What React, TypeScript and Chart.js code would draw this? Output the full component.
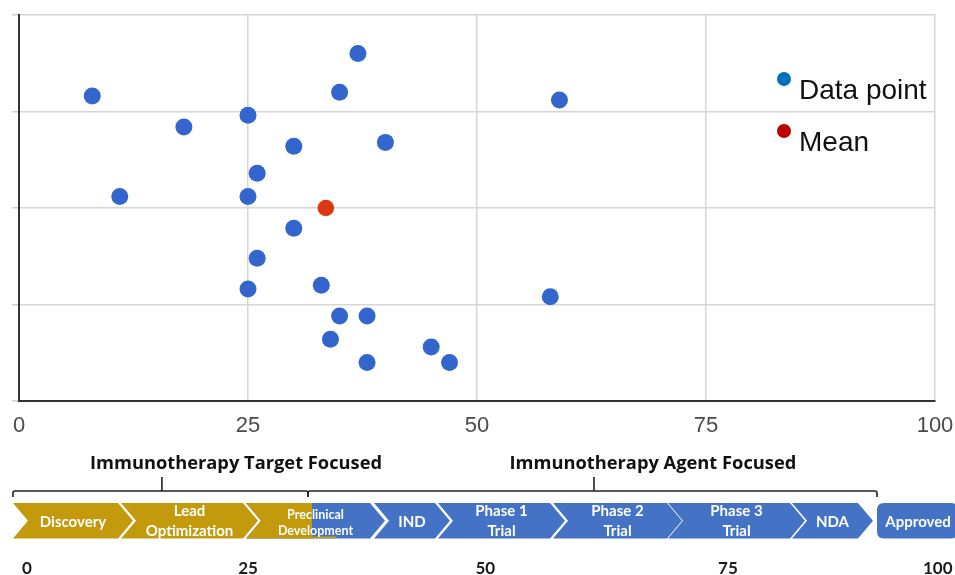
import { useEffect, useRef } from 'react';
import { Chart, registerables } from 'chart.js';

Chart.register(...registerables);

// ---- scatter data ----
const dataX = [8, 37, 35, 25, 18, 30, 40, 26, 11, 25, 30, 26, 25, 33, 35, 38, 34, 38, 45, 47, 59, 58];
const dataY = [3.16, 3.6, 3.2, 2.96, 2.84, 2.64, 2.68, 2.36, 2.12, 2.12, 1.79, 1.48, 1.16, 1.2, 0.88, 0.88, 0.64, 0.4, 0.56, 0.4, 3.12, 1.08];
const meanX = [33.5];
const meanY = [2.0];
const seriesLabels = ['Data point', 'Mean'];
const legendColors = ['#0070C0', '#C00000'];

// ---- pipeline diagram (positions on the same 0-100 x scale) ----
const stageLabels = [
  ['Discovery'],
  ['Lead', 'Optimization'],
  ['Preclinical', 'Development'],
  ['IND'],
  ['Phase 1', 'Trial'],
  ['Phase 2', 'Trial'],
  ['Phase 3', 'Trial'],
  ['NDA'],
  ['Approved'],
];
const stageStart = [-0.66, 11.14, 24.78, 38.76, 45.74, 58.3, 70.85, 84.39, 93.67];
const stageEnd = [10.81, 24.45, 38.32, 45.41, 57.97, 70.74, 84.17, 91.59, 102.5];
const targetAgentSplit = 31.99;
const bracketLabels = ['Immunotherapy Target Focused', 'Immunotherapy Agent Focused'];
const bracketStart = [-0.66, 31.55];
const bracketEnd = [31.55, 93.67];
const bracketTip = [15.6, 62.77];
const bracketLabelPos = [23.69, 69.2];
const stageTickLabels = ['0', '25', '50', '75', '100'];
const stageTickPos = [0.87, 25, 50.9, 77.4, 100.3];

const GOLD = '#C29A0C';
const BLUE = '#4472C4';

export default function App() {
  const ref = useRef<HTMLCanvasElement>(null);

  useEffect(() => {
    document.body.style.margin = '0';
    const canvas = ref.current!;
    const ctx = canvas.getContext('2d')!;

    const pipelinePlugin = {
      id: 'pipeline',
      afterDraw(chart: any) {
        const c: CanvasRenderingContext2D = chart.ctx;
        const xs = chart.scales.x;
        const area = chart.chartArea;
        const px = (v: number) => xs.getPixelForValue(v);

        // legend inside plot area
        c.save();
        c.font = '28px "Liberation Sans", Arial, sans-serif';
        c.textBaseline = 'alphabetic';
        c.textAlign = 'left';
        seriesLabels.forEach((lab, i) => {
          const dx = area.right - 151;
          const dy = area.top + 64 + i * 52;
          c.fillStyle = legendColors[i];
          c.beginPath();
          c.arc(dx, dy, 7, 0, Math.PI * 2);
          c.fill();
          c.fillStyle = '#111';
          c.fillText(lab, dx + 15, dy + 20);
        });
        c.restore();

        // brackets
        c.save();
        c.strokeStyle = '#222';
        c.lineWidth = 1.6;
        const by = 491;
        bracketLabels.forEach((lab, i) => {
          const L = px(bracketStart[i]);
          const R = px(bracketEnd[i]);
          const T = px(bracketTip[i]);
          c.beginPath();
          c.moveTo(L, by + 6);
          c.lineTo(L, by + 2);
          c.quadraticCurveTo(L, by, L + 2, by);
          c.lineTo(R - 2, by);
          c.quadraticCurveTo(R, by, R, by + 2);
          c.lineTo(R, by + 6);
          c.moveTo(T, by);
          c.lineTo(T, by - 14);
          c.stroke();
          c.fillStyle = '#111';
          c.font = 'bold 18.3px "Open Sans", sans-serif';
          c.textAlign = 'center';
          c.textBaseline = 'alphabetic';
          c.fillText(lab, px(bracketLabelPos[i]), 469);
        });
        c.restore();

        // chevrons
        const top = 503;
        const bot = 538.5;
        const mid = (top + bot) / 2;
        const d = 15;
        const split = px(targetAgentSplit);
        stageLabels.forEach((lines, i) => {
          const L = px(stageStart[i]);
          const R = px(stageEnd[i]);
          const last = i === stageLabels.length - 1;
          c.save();
          c.beginPath();
          if (last) {
            const r = 7;
            c.moveTo(L + r, top);
            c.lineTo(R - r, top);
            c.quadraticCurveTo(R, top, R, top + r);
            c.lineTo(R, bot - r);
            c.quadraticCurveTo(R, bot, R - r, bot);
            c.lineTo(L + r, bot);
            c.quadraticCurveTo(L, bot, L, bot - r);
            c.lineTo(L, top + r);
            c.quadraticCurveTo(L, top, L + r, top);
          } else {
            c.moveTo(L, top);
            c.lineTo(R, top);
            c.lineTo(R + d, mid);
            c.lineTo(R, bot);
            c.lineTo(L, bot);
            c.lineTo(L + d, mid);
          }
          c.closePath();
          const allGold = stageEnd[i] <= targetAgentSplit;
          const partial = stageStart[i] < targetAgentSplit && stageEnd[i] > targetAgentSplit;
          c.fillStyle = allGold ? GOLD : BLUE;
          c.fill();
          if (partial) {
            c.clip();
            c.fillStyle = GOLD;
            c.fillRect(L - 2, top - 2, split - L + 2, bot - top + 4);
            c.fillRect(split, bot - 2, (R - split) * 0.42, 2);
          }
          c.restore();

          // label
          c.save();
          c.fillStyle = '#fff';
          c.textAlign = 'center';
          c.textBaseline = 'middle';
          const cx = last ? (L + Math.min(R, 955)) / 2 + 2 : (L + R) / 2 + d / 2;
          const small = lines[0] === 'Preclinical';
          c.font = small ? 'bold 12.5px Lato, sans-serif' : 'bold 15px Lato, sans-serif';
          if (lines.length === 1) {
            c.fillText(lines[0], cx, mid + 1);
          } else if (small) {
            c.fillText(lines[0], cx, 515);
            c.fillText(lines[1], cx, 531);
          } else {
            c.fillText(lines[0], cx, 511.5);
            c.fillText(lines[1], cx, 531);
          }
          c.restore();
        });

        // stage tick labels
        c.save();
        c.fillStyle = '#1a1a1a';
        c.font = 'bold 17px Lato, sans-serif';
        c.textAlign = 'center';
        c.textBaseline = 'alphabetic';
        stageTickLabels.forEach((t, i) => {
          c.fillText(t, px(stageTickPos[i]), 574);
        });
        c.restore();
      },
    };

    const chart = new Chart(ctx, {
      type: 'scatter',
      data: {
        datasets: [
          {
            label: seriesLabels[0],
            data: dataX.map((x, i) => ({ x, y: dataY[i] })),
            backgroundColor: '#3366CC',
            borderWidth: 0,
            pointRadius: 8.5,
            pointHoverRadius: 8.5,
          },
          {
            label: seriesLabels[1],
            data: meanX.map((x, i) => ({ x, y: meanY[i] })),
            backgroundColor: '#DC3912',
            borderWidth: 0,
            pointRadius: 8.3,
            pointHoverRadius: 8.3,
          },
        ],
      },
      options: {
        animation: false,
        responsive: false,
        maintainAspectRatio: false,
        layout: { padding: { top: 15, right: 20, left: 0, bottom: 0 } },
        plugins: { legend: { display: false }, tooltip: { enabled: false } },
        scales: {
          x: {
            type: 'linear',
            min: 0,
            max: 100,
            afterFit: (s: any) => {
              s.height = 174;
              s.paddingLeft = 0;
              s.paddingRight = 0;
            },
            ticks: {
              stepSize: 25,
              color: '#4a4a4a',
              font: { family: '"Liberation Sans", Arial, sans-serif', size: 22 },
              padding: 12,
              maxRotation: 0,
            },
            grid: { color: '#d6d6d6', lineWidth: 1.5, drawTicks: false },
            border: { color: '#333', width: 2 },
          },
          y: {
            type: 'linear',
            min: 0,
            max: 4,
            afterFit: (s: any) => {
              s.width = 19;
              s.paddingTop = 0;
              s.paddingBottom = 0;
            },
            ticks: { stepSize: 1, display: false },
            grid: { color: '#d6d6d6', lineWidth: 1.5, drawTicks: true, tickLength: 7, tickColor: '#cfcfcf' },
            border: { color: '#333', width: 2 },
          },
        },
      },
      plugins: [pipelinePlugin],
    });

    return () => chart.destroy();
  }, []);

  return (
    <div style={{ position: 'absolute', left: 0, top: 0, width: 955, height: 575, background: '#fff' }}>
      <canvas ref={ref} width={955} height={575} style={{ display: 'block', width: 955, height: 575 }} />
    </div>
  );
}
